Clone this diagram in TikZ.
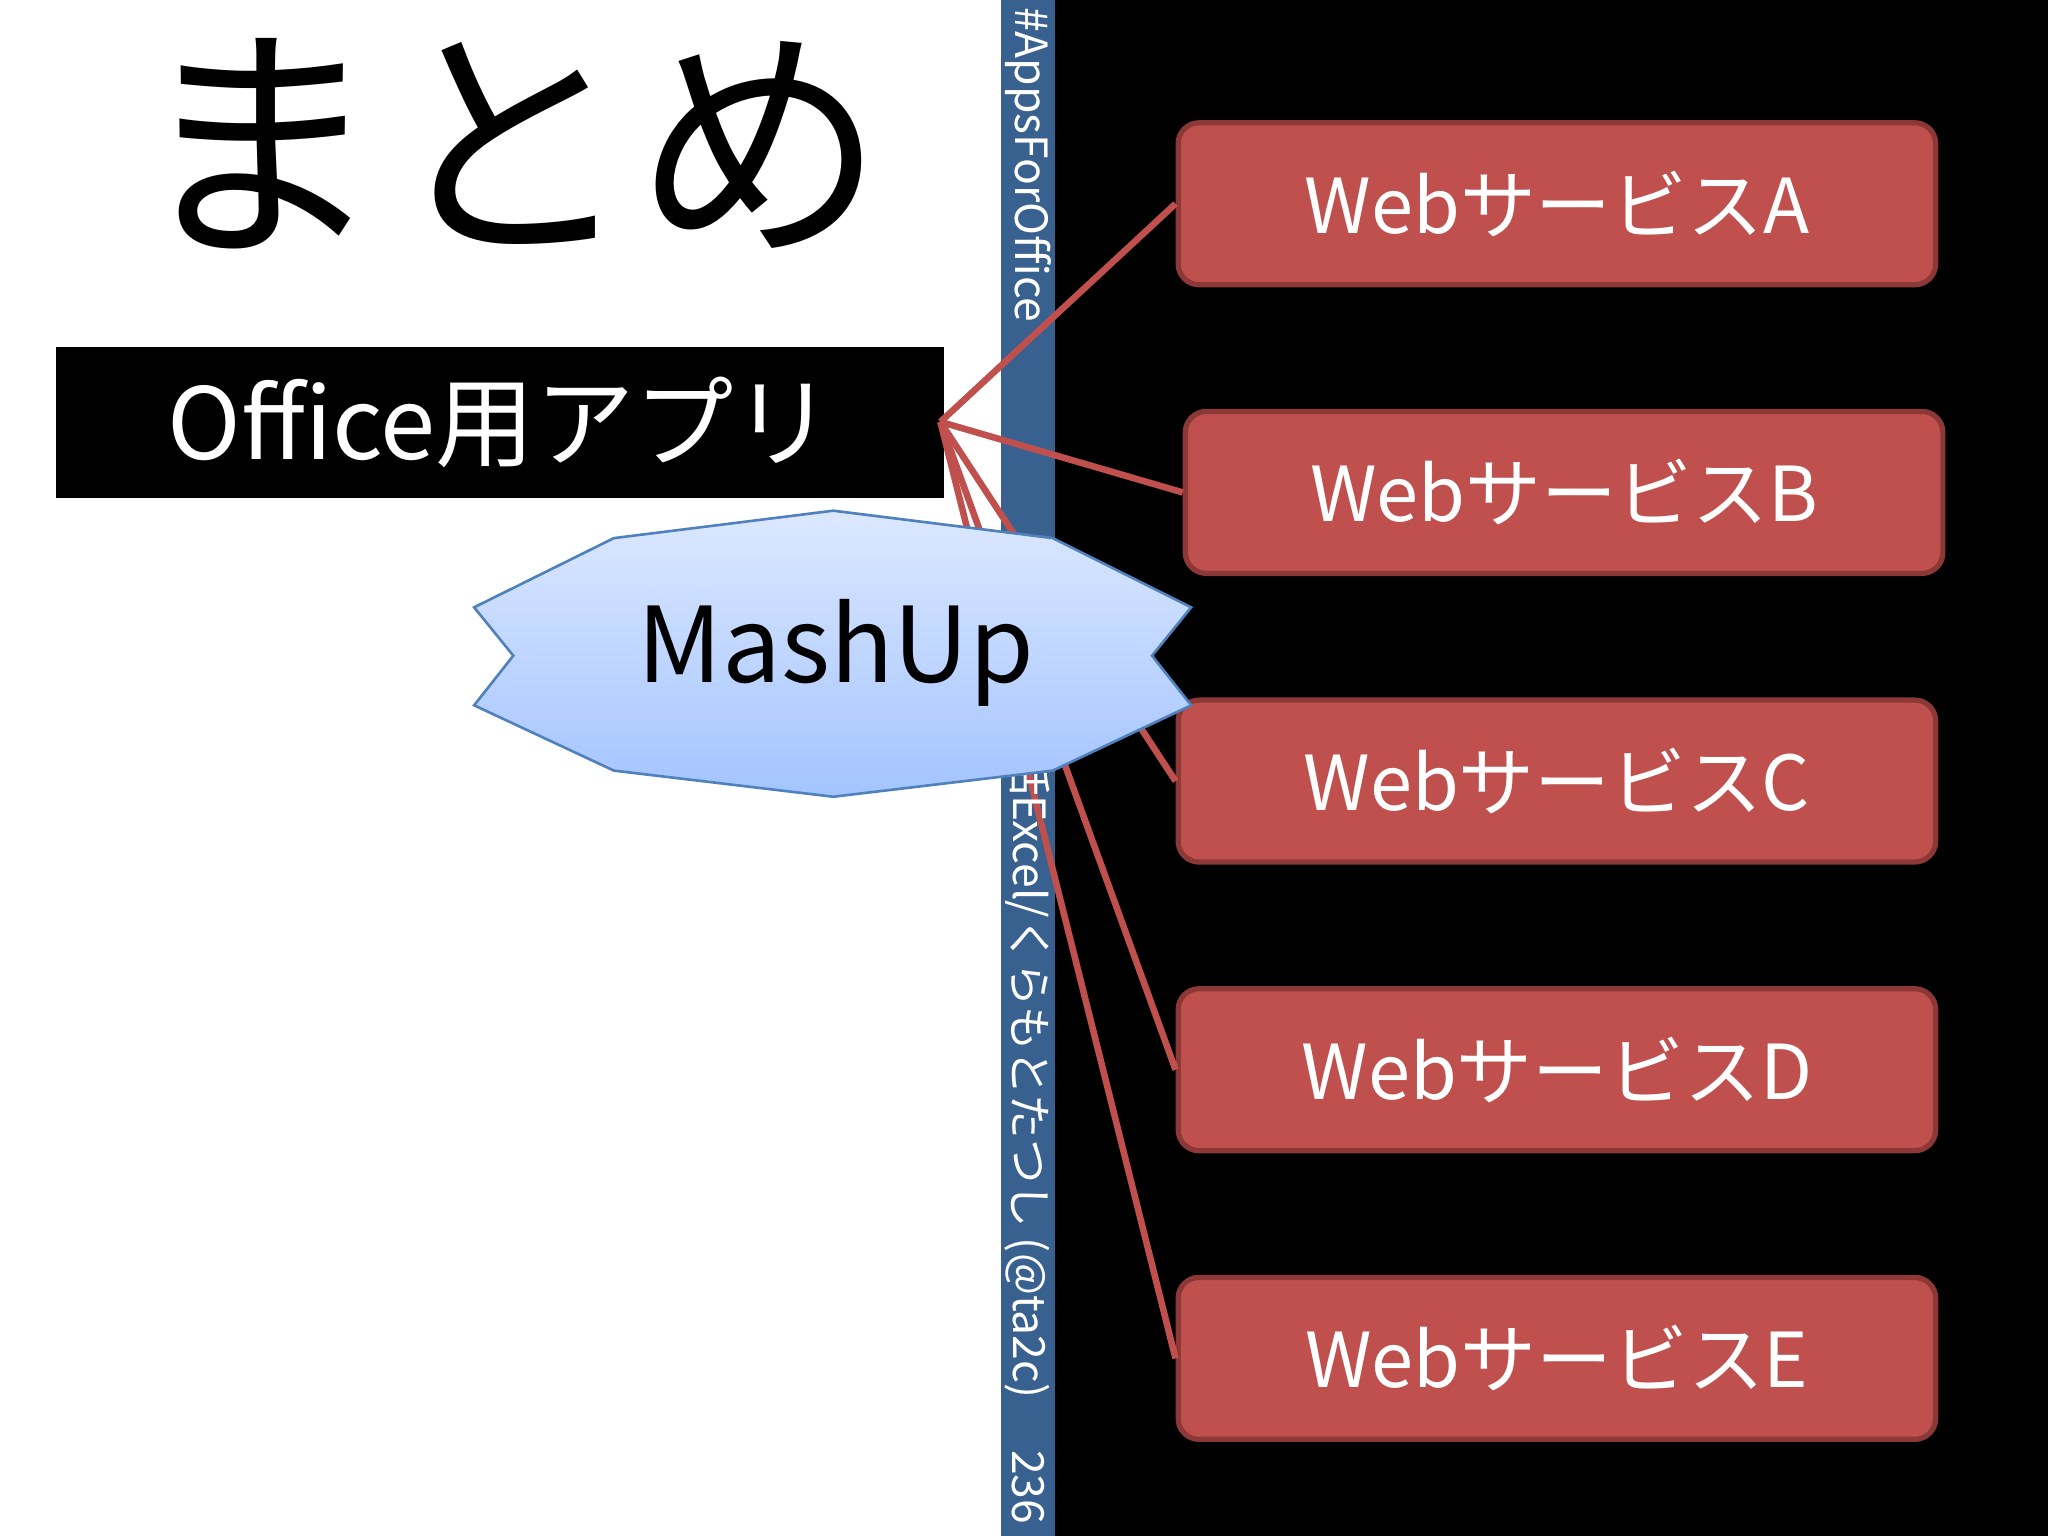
\documentclass[tikz,border=0pt]{standalone}
\usepackage{fontspec}
\setmainfont{Noto Sans CJK JP}
\begin{document}
\begin{tikzpicture}[x=0.5pt,y=-0.5pt,
  web/.style={draw=webb,fill=webf,line width=2pt,rounded corners=8pt,minimum width=290pt,minimum height=62pt,text=white,font=\fontsize{29}{30}\selectfont,inner sep=0pt},
  link/.style={draw=webf,line width=2.5pt}]
\definecolor{webf}{HTML}{C0504D}
\definecolor{webb}{HTML}{8C3836}
\definecolor{strip}{HTML}{38618F}
\definecolor{starb}{HTML}{4F81BD}
\definecolor{startop}{HTML}{DCE8FF}
\definecolor{starbot}{HTML}{A3C4FF}
\useasboundingbox (0,0) rectangle (1568,1176);
\fill[white] (0,0) rectangle (766,1176);
\fill[strip] (766,0) rectangle (808,1176);
\fill[black] (808,0) rectangle (1568,1176);
\node (title) at (390,110) {\fontsize{96}{100}\selectfont まとめ};
\node[fill=black,minimum width=340pt,minimum height=57.5pt,text=white,font=\fontsize{38}{40}\selectfont,inner sep=0pt] (app) at (383,323.5) {Office用アプリ};
\node[web] (A) at (1192,156) {WebサービスA};
\node[web] (B) at (1197.5,377) {WebサービスB};
\node[web] (C) at (1192,598) {WebサービスC};
\node[web] (D) at (1192,819) {WebサービスD};
\node[web] (E) at (1192,1040) {WebサービスE};
\coordinate (hub) at (720,323);
\foreach \n in {A,B,C,D,E} \draw[link] (hub) -- (\n.west);
\node[rotate=-90,anchor=west,text=white,font=\fontsize{17}{18}\selectfont,inner sep=0pt] (tag) at (787,5) {\#AppsForOffice};
\node[rotate=-90,anchor=west,text=white,font=\fontsize{17}{18}\selectfont,inner sep=0pt] (auth) at (787,575) {話Excel/くらもとたつし (@ta2c)};
\node[rotate=-90,anchor=west,text=white,font=\fontsize{17}{18}\selectfont,inner sep=0pt] (pg) at (787,1110) {236};
\shade[top color=startop,bottom color=starbot,draw=starb,line width=1pt]
 (363,465) -- (470,412) -- (638,391) -- (806,412) -- (912,465) -- (882,502) -- (912,540) -- (806,590) -- (638,610) -- (470,590) -- (363,540) -- (393,502) -- cycle;
\node (mash) at (640,500) {\fontsize{40}{42}\selectfont MashUp};
\end{tikzpicture}
\end{document}
